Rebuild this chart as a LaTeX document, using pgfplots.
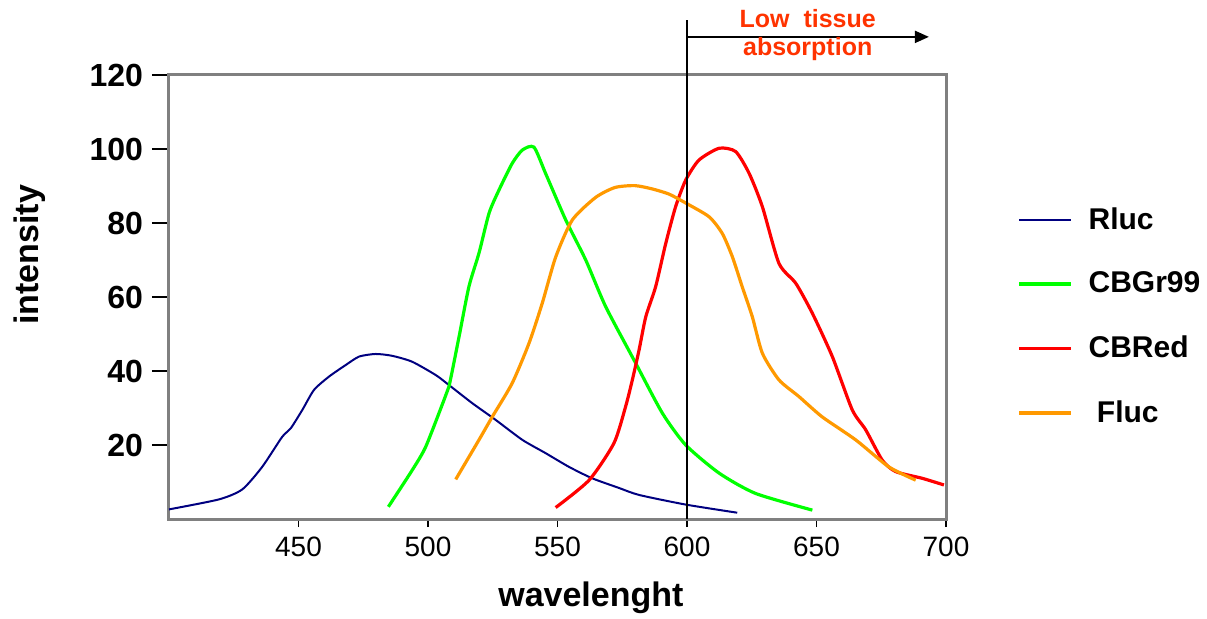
\documentclass[border=0pt]{standalone}
\usepackage{fontspec}
\setmainfont{Liberation Sans}
\usepackage{pgfplots}
\pgfplotsset{compat=1.18}
\usetikzlibrary{arrows.meta}

\definecolor{rluc}{HTML}{000080}
\definecolor{cbgr}{HTML}{00FF00}
\definecolor{cbred}{HTML}{FF0000}
\definecolor{fluc}{HTML}{FF9900}
\definecolor{note}{HTML}{FF3300}

\newcommand{\fs}[1]{\fontsize{#1}{#1}\selectfont}

\begin{document}
\begin{tikzpicture}
\begin{axis}[
    scale only axis,
    width=388.5pt,
    height=222pt,
    xmin=400, xmax=700,
    ymin=0, ymax=120,
    xtick={450,500,...,700},
    ytick={20,40,...,120},
    axis line style={draw=gray, line width=1.5pt},
    tick align=outside,
    xtick pos=bottom,
    ytick pos=left,
    major tick length=8.5pt,
    x tick style={black, line width=0.8pt, /pgfplots/major tick length=4pt},
    y tick style={black, line width=1.2pt},
    /pgf/number format/assume math mode=true,
    xticklabel style={font=\fs{14}, yshift=3pt},
    yticklabel style={font=\bfseries\fs{16}, xshift=-1pt},
    xlabel={wavelenght},
    ylabel={intensity},
    xlabel style={font=\bfseries\fs{17}, at={(axis description cs:0.543,-0.178)}, anchor=center},
    ylabel style={font=\bfseries\fs{17}, at={(axis description cs:-0.179,0.595)}, anchor=center, rotate=0},
    clip=false,
    every axis plot/.append style={smooth, tension=0.4},
    legend cell align=left,
    legend style={draw=none, fill=none, font=\bfseries\fs{15},
        at={(rel axis cs:1.0914,0.712)}, anchor=north west,
        row sep=16pt, inner sep=0pt},
    legend image code/.code={\draw[#1, sharp plot] (0pt,0pt) -- (26pt,0pt); \path (32pt,0pt);},
]
% Rluc
\addplot[rluc, line width=1pt] coordinates {
    (400,2.6) (419.3,5.3) (428.3,8.0) (436.0,14.1) (443.7,22.2)
    (447.0,24.5) (451.5,29.5) (456.0,34.9) (461.8,38.5) (468.2,41.6)
    (473.4,43.9) (479.8,44.6) (486.2,44.1) (493.9,42.5) (503.0,38.9)
    (508.1,36.2) (517.1,31.3) (526.1,26.8) (536.4,21.4) (545.4,17.8)
    (554.4,14.1) (563.4,11.0) (573.7,8.4) (581.5,6.5) (599.5,3.9)
    (619.4,1.7)
};
\addlegendentry{Rluc}
% CBGr99
\addplot[cbgr, line width=1.6pt] coordinates {
    (484.7,3.3) (493.9,13.2) (499.1,19.5) (506.2,32.2) (508.1,35.8)
    (512.0,49.3) (515.8,62.8) (519.7,71.9) (523.6,82.7) (527.4,88.9)
    (532.5,96.1) (536.4,99.7) (540.9,100.5) (545.4,93.4) (553.2,80.8)
    (560.9,70.0) (568.6,57.4) (580.2,42.1) (590.5,28.6) (599.5,20.0)
    (612.4,12.4) (626.5,6.9) (648.4,2.4)
};
\addlegendentry{CBGr99}
% CBRed
\addplot[cbred, line width=1.6pt] coordinates {
    (549.3,3.1) (562.2,10.5) (571.8,20.5) (576.3,30.4) (578.9,37.6)
    (581.5,45.7) (584.1,54.7) (587.9,62.8) (591.8,74.5) (595.6,84.4)
    (599.5,91.6) (604.6,97.0) (612.4,100.2) (618.8,99.3) (624.0,93.4)
    (629.1,84.4) (635.5,69.1) (642.0,63.7) (648.4,55.6) (656.1,43.9)
    (663.8,29.5) (669.0,24.1) (675.4,15.9) (680.6,12.8) (690.8,11.0)
    (699.2,9.2)
};
\addlegendentry{CBRed}
% Fluc
\addplot[fluc, line width=1.6pt] coordinates {
    (510.7,10.7) (519.7,21.4) (524.8,27.6) (532.5,36.7) (539.0,47.5)
    (544.1,58.3) (549.3,70.8) (555.7,80.8) (564.7,86.9) (572.2,89.6)
    (579.9,90.1) (586.6,89.2) (593.1,87.8) (599.5,85.4) (608.5,81.7)
    (613.6,77.2) (617.5,70.9) (621.3,62.8) (625.2,54.7) (629.1,44.8)
    (635.5,37.6) (643.2,33.1) (652.2,27.6) (665.1,21.4) (677.9,14.1)
    (688.3,10.5)
};
\addlegendentry{\ Fluc}
% annotation
\draw[black, line width=0.8pt] (axis cs:600,0) -- (axis cs:600,134.9);
\draw[black, line width=1pt, -{Triangle[length=7pt, width=6pt]}]
    (axis cs:600,130.3) -- (axis cs:693.4,130.3);
\node[note, font=\bfseries\fs{12.5}] at (rel axis cs:0.822,1.126) {Low\ \ tissue};
\node[note, font=\bfseries\fs{12.5}] at (rel axis cs:0.822,1.0586) {absorption};
\coordinate (bl) at (rel axis cs:-0.2175,-0.223);
\coordinate (tr) at (rel axis cs:1.3359,1.1689);
\end{axis}
\pgfresetboundingbox
\useasboundingbox (bl) rectangle (tr);
\end{tikzpicture}
\end{document}
